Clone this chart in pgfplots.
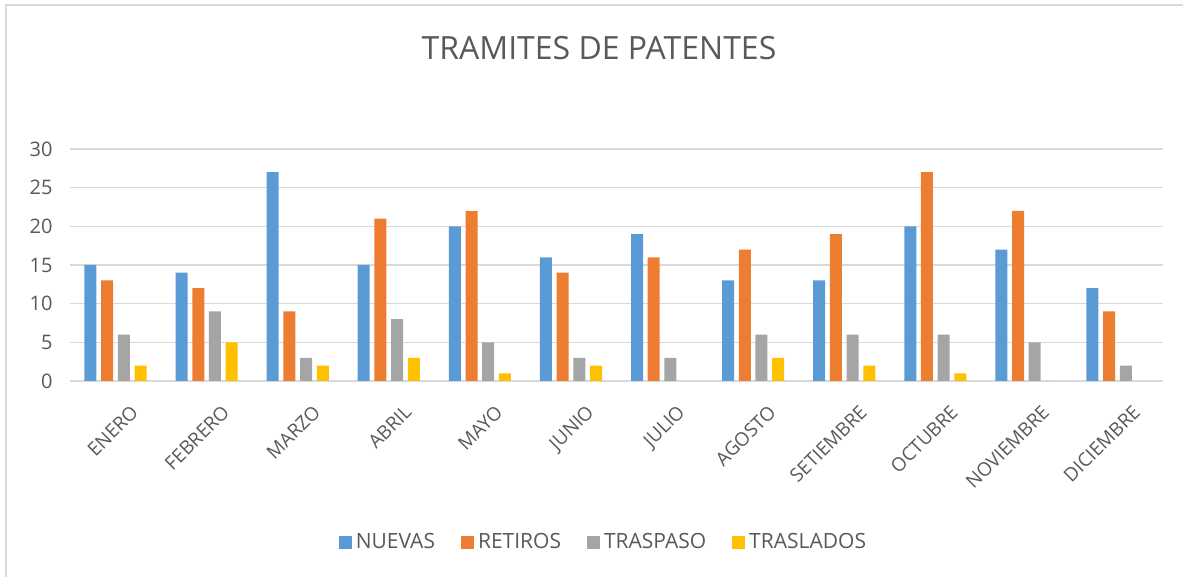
\documentclass[border=0pt]{standalone}
\usepackage{pgfplots}
\pgfplotsset{compat=1.18}
\usepackage{fontspec}
\setmainfont{Open Sans}
\definecolor{cNue}{HTML}{5B9BD5}
\definecolor{cRet}{HTML}{ED7D31}
\definecolor{cTrp}{HTML}{A5A5A5}
\definecolor{cTrl}{HTML}{FFC000}
\definecolor{txt}{HTML}{595959}
\definecolor{grd}{HTML}{D9D9D9}
\begin{document}
\begin{tikzpicture}[x=1bp,y=1bp]
\useasboundingbox (0,0) rectangle (1183,577);
\draw[grd, line width=2bp] (6,0) -- (6,572) -- (1183,572);
\node[text=txt, font=\fontsize{32bp}{36bp}\selectfont] at (599,529) {TRAMITES DE PATENTES};
\begin{axis}[
  at={(70bp,196bp)}, anchor=south west,
  scale only axis, width=1093bp, height=232bp,
  xmin=-0.5, xmax=11.5, ymin=0, ymax=30,
  ytick={0,5,...,30},
  xtick={0,...,11},
  xticklabels={ENERO,FEBRERO,MARZO,ABRIL,MAYO,JUNIO,JULIO,AGOSTO,SETIEMBRE,OCTUBRE,NOVIEMBRE,DICIEMBRE},
  axis line style={draw=none},
  major tick length=0pt,
  ymajorgrids, grid style={grd, line width=1.5bp},
  tick label style={text=txt},
  /pgf/number format/assume math mode=true,
  yticklabel style={font=\fontsize{20bp}{24bp}\selectfont, xshift=-14bp},
  xticklabel style={font=\fontsize{19bp}{23bp}\selectfont, rotate=45, anchor=north east, inner sep=0pt, xshift=-6bp, yshift=-26bp},
  ybar=4.7bp, bar width=12bp,
  legend style={at={(0.488,-0.694)}, anchor=center, draw=none, legend columns=4,
    font=\fontsize{21bp}{24bp}\selectfont, text=txt,
    nodes={inner sep=2bp},
    /tikz/every odd column/.append style={column sep=2bp},
    /tikz/every even column/.append style={column sep=24bp}},
  legend image code/.code={\fill[#1] (0bp,-6.5bp) rectangle (13bp,6.5bp);},
  legend cell align=left,
]
\addplot[fill=cNue, draw=none] coordinates {(0,15)(1,14)(2,27)(3,15)(4,20)(5,16)(6,19)(7,13)(8,13)(9,20)(10,17)(11,12)};
\addplot[fill=cRet, draw=none] coordinates {(0,13)(1,12)(2,9)(3,21)(4,22)(5,14)(6,16)(7,17)(8,19)(9,27)(10,22)(11,9)};
\addplot[fill=cTrp, draw=none] coordinates {(0,6)(1,9)(2,3)(3,8)(4,5)(5,3)(6,3)(7,6)(8,6)(9,6)(10,5)(11,2)};
\addplot[fill=cTrl, draw=none] coordinates {(0,2)(1,5)(2,2)(3,3)(4,1)(5,2)(6,0)(7,3)(8,2)(9,1)(10,0)(11,0)};
\legend{NUEVAS,RETIROS,TRASPASO,TRASLADOS}
\end{axis}
\end{tikzpicture}
\end{document}
